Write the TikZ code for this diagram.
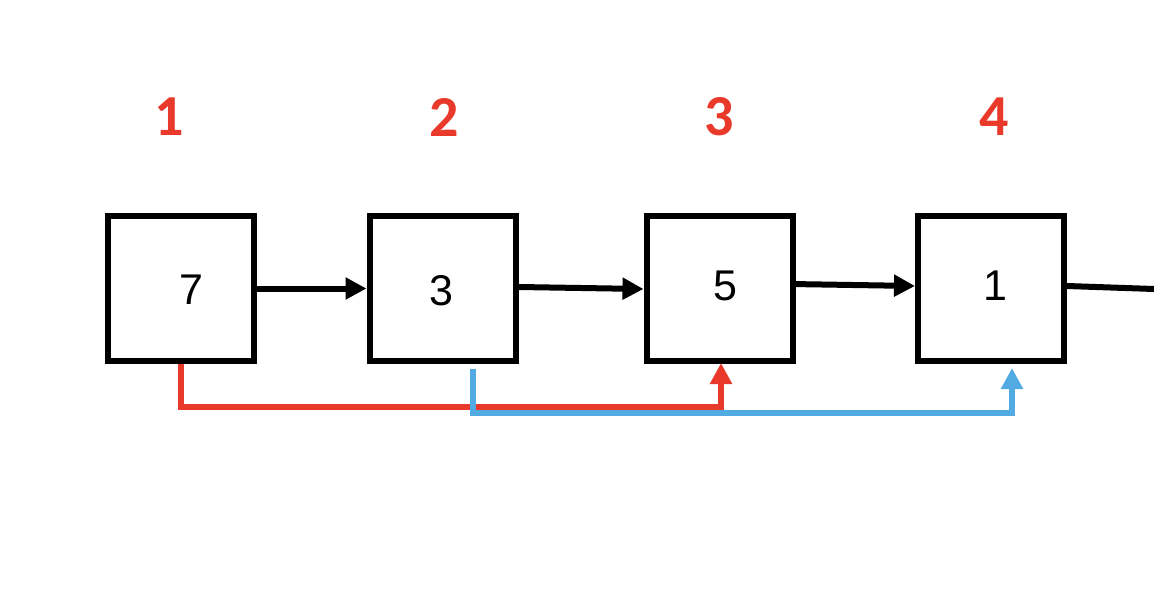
\documentclass[tikz,border=0pt]{standalone}
\usepackage{fontspec}
\setmainfont{Liberation Sans}
\newfontfamily\numfont{Carlito}
\usetikzlibrary{arrows.meta,calc}
\definecolor{idxred}{RGB}{232,57,42}
\definecolor{linkblue}{RGB}{82,170,226}
\tikzset{
  cell/.style={draw=black,line width=3pt,minimum width=73pt,minimum height=72.5pt,inner sep=0pt},
  val/.style={font=\fontsize{21.5}{24}\selectfont,inner sep=0pt},
  idx/.style={font=\numfont\bfseries\fontsize{29}{32}\selectfont,text=idxred,inner sep=0pt},
  link/.style={line width=3pt,-{Triangle[length=10.5pt,width=10.5pt]}},
  jump/.style={line width=3pt,-{Triangle[length=10.5pt,width=10.5pt]}},
}
\begin{document}
\begin{tikzpicture}[x=0.5pt,y=-0.5pt]
\useasboundingbox (0,0) rectangle (1154,604);
% index labels
\node[idx] (i1) at (169,117) {1};
\node[idx] (i2) at (444,117) {2};
\node[idx] (i3) at (719,117) {3};
\node[idx] (i4) at (994,117) {4};
% boxes
\node[cell] (b1) at (181,288.5) {};
\node[cell] (b2) at (442.5,288.5) {};
\node[cell] (b3) at (719.5,288.5) {};
\node[cell] (b4) at (991,288.5) {};
% values
\node[val] (v1) at (191,289.5) {7};
\node[val] (v2) at (441,290.5) {3};
\node[val] (v3) at (725,286) {5};
\node[val] (v4) at (995,286) {1};
% next links
\coordinate (out) at (1154,289);
\draw[link] (b1.east) -- (b2.west);
\draw[link] ($(b2.east)+(0,-1.5)$) -- ($(b3.west)+(0,0.5)$);
\draw[link] ($(b3.east)+(-5,-4.5)$) -- ($(b4.west)+(0,-2.5)$);
\draw[line width=3pt] ($(b4.east)+(0,-2.5)$) -- (out);
% jump links
\draw[jump,idxred] (b1.south) -- ++(0,43) -| ($(b3.south)+(1.5,-1)$);
\draw[jump,linkblue] ($(b2.south)+(30,5)$) -- ++(0,44) -| ($(b4.south)+(21,4)$);
\end{tikzpicture}
\end{document}
